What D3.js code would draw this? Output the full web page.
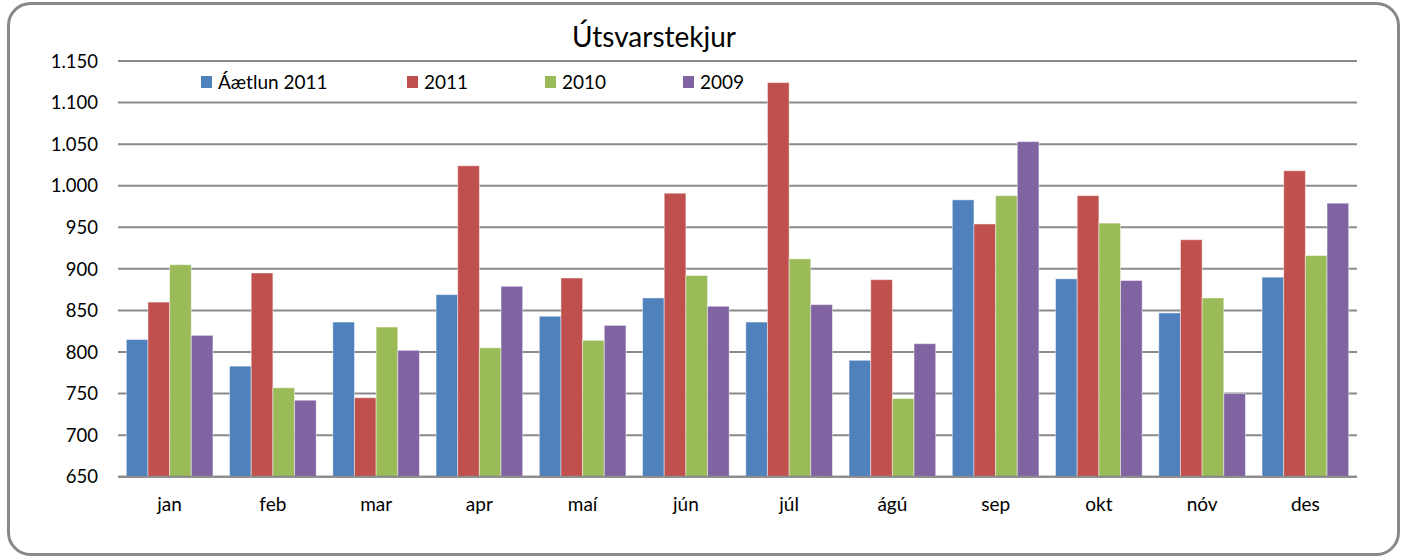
<!DOCTYPE html>
<html>
<head>
<meta charset="utf-8">
<script src="https://cdn.jsdelivr.net/npm/d3@7"></script>
<style>
  html, body { margin: 0; padding: 0; background: #fff; }
  text { font-family: Lato, "Open Sans", sans-serif; fill: #000; }
</style>
</head>
<body>
<div id="chart"></div>
<script>
var months = ["jan", "feb", "mar", "apr", "maí", "jún", "júl", "ágú", "sep", "okt", "nóv", "des"];
var seriesNames = ["Áætlun 2011", "2011", "2010", "2009"];
var aetlun2011 = [815, 783, 836, 869, 843, 865, 836, 790, 983, 888, 847, 890];
var values2011 = [860, 895, 745, 1024, 889, 991, 1124, 887, 954, 988, 935, 1018];
var values2010 = [905, 757, 830, 805, 814, 892, 912, 744, 988, 955, 865, 916];
var values2009 = [820, 742, 802, 879, 832, 855, 857, 810, 1053, 886, 750, 979];
var yTicks = [650, 700, 750, 800, 850, 900, 950, 1000, 1050, 1100, 1150];
var colors = ["#4f81bd", "#c0504d", "#9bbb59", "#8064a2"];

var allSeries = [aetlun2011, values2011, values2010, values2009];

var width = 1402, height = 558;
var margin = { left: 118, right: 45, top: 61, bottom: 81.3 };

var svg = d3.select("#chart").append("svg")
    .attr("width", width)
    .attr("height", height);

// outer frame
svg.append("rect")
    .attr("x", 8.5).attr("y", 3.5)
    .attr("width", 1390).attr("height", 551)
    .attr("rx", 22).attr("ry", 22)
    .attr("fill", "#fff")
    .attr("stroke", "#888")
    .attr("stroke-width", 3);

var x = d3.scaleBand()
    .domain(months)
    .range([margin.left, width - margin.right])
    .paddingInner(0.161)
    .paddingOuter(0.0805);

var xs = d3.scaleBand()
    .domain(d3.range(seriesNames.length))
    .range([0, x.bandwidth()]);

var y = d3.scaleLinear()
    .domain([650, 1150])
    .range([height - margin.bottom, margin.top]);

var loc = d3.formatLocale({ decimal: ",", thousands: ".", grouping: [3], currency: ["", ""] });
var fmt = loc.format(",");

// gridlines
svg.append("g")
    .selectAll("line")
    .data(yTicks)
    .join("line")
    .attr("x1", margin.left)
    .attr("x2", width - margin.right)
    .attr("y1", d => y(d))
    .attr("y2", d => y(d))
    .attr("stroke", "#8a8a8a")
    .attr("stroke-width", 2);

// y labels
svg.append("g")
    .selectAll("text")
    .data(yTicks)
    .join("text")
    .attr("x", 98)
    .attr("y", d => y(d))
    .attr("dy", "0.36em")
    .attr("text-anchor", "end")
    .style("font-size", "18.5px")
    .text(d => fmt(d));

// bars
var groups = svg.append("g")
    .selectAll("g")
    .data(allSeries)
    .join("g")
    .attr("fill", (d, i) => colors[i]);

groups.each(function (vals, si) {
    d3.select(this).selectAll("rect")
        .data(vals)
        .join("rect")
        .attr("x", (d, i) => x(months[i]) + xs(si))
        .attr("width", xs.bandwidth())
        .attr("y", d => y(d))
        .attr("height", d => y(650) - y(d))
        .attr("stroke", "rgba(255,255,255,0.45)")
        .attr("stroke-width", 1);
});

// category axis line
svg.append("line")
    .attr("x1", margin.left)
    .attr("x2", width - margin.right)
    .attr("y1", y(650))
    .attr("y2", y(650))
    .attr("stroke", "#8a8a8a")
    .attr("stroke-width", 2);

// x labels
svg.append("g")
    .selectAll("text")
    .data(months)
    .join("text")
    .attr("x", d => x(d) + x.bandwidth() / 2)
    .attr("y", 511)
    .attr("text-anchor", "middle")
    .style("font-size", "19px")
    .text(d => d);

// title
svg.append("text")
    .attr("x", 654)
    .attr("y", 47)
    .attr("text-anchor", "middle")
    .style("font-size", "28px")
    .text("Útsvarstekjur");

// legend
var legendX = [201, 407, 545, 683];
var legend = svg.append("g")
    .selectAll("g")
    .data(seriesNames)
    .join("g")
    .attr("transform", (d, i) => "translate(" + legendX[i] + ",76)");

legend.append("rect")
    .attr("width", 11).attr("height", 12)
    .attr("fill", (d, i) => colors[i]);

legend.append("text")
    .attr("x", 17)
    .attr("y", 12.5)
    .style("font-size", "19px")
    .text(d => d);
</script>
</body>
</html>
